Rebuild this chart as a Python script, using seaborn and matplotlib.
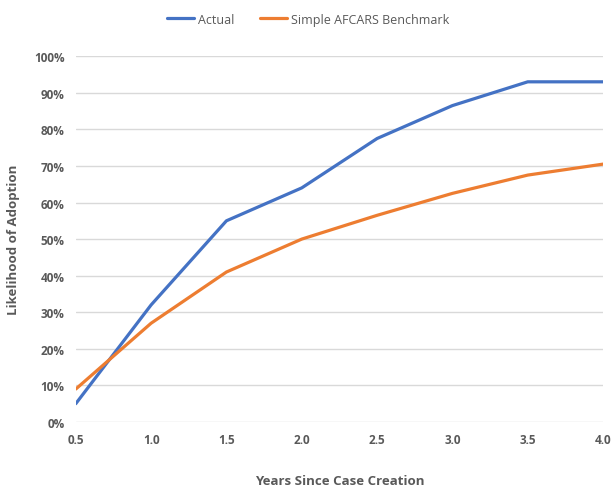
import matplotlib
matplotlib.use("Agg")
import matplotlib.pyplot as plt
import seaborn as sns
import pandas as pd
from matplotlib.ticker import FuncFormatter, MultipleLocator

years = [0.5, 1.0, 1.5, 2.0, 2.5, 3.0, 3.5, 4.0]
actual = [0.05, 0.32, 0.55, 0.64, 0.775, 0.865, 0.93, 0.93]
benchmark = [0.09, 0.27, 0.41, 0.50, 0.565, 0.625, 0.675, 0.705]
series_names = ["Actual", "Simple AFCARS Benchmark"]
colors = ["#4472C4", "#ED7D31"]

df = pd.concat([
    pd.DataFrame({"Years": years, "Value": actual, "Series": series_names[0]}),
    pd.DataFrame({"Years": years, "Value": benchmark, "Series": series_names[1]}),
])

sns.set_theme(style="white")
plt.rcParams['font.family'] = ['Open Sans', 'DejaVu Sans']

fig = plt.figure(figsize=(6.16, 4.89), dpi=100)
ax = fig.add_axes([0.123, 0.135, 0.856, 0.748])
sns.lineplot(data=df, x="Years", y="Value", hue="Series", palette=colors,
             linewidth=2.3, ax=ax, legend=True)

ax.set_xlim(0.5, 4.0)
ax.set_ylim(0, 1.0)
ax.xaxis.set_major_locator(MultipleLocator(0.5))
ax.yaxis.set_major_locator(MultipleLocator(0.1))
ax.xaxis.set_major_formatter(FuncFormatter(lambda v, p: f"{v:.1f}"))
ax.yaxis.set_major_formatter(FuncFormatter(lambda v, p: f"{v*100:.0f}%"))
ax.grid(axis="y", color="#D9D9D9", linewidth=1)
ax.grid(axis="x", visible=False)
for s in ax.spines.values():
    s.set_visible(False)
ax.tick_params(axis="both", length=0, labelsize=8.5, labelcolor="#595959", pad=8)
for lab in ax.get_xticklabels() + ax.get_yticklabels():
    lab.set_fontweight("bold")
ax.set_xlabel("Years Since Case Creation", fontsize=9.5, color="#595959",
              fontweight="bold", labelpad=20)
ax.set_ylabel("Likelihood of Adoption", fontsize=9.5, color="#595959",
              fontweight="bold", labelpad=10)

handles, labels = ax.get_legend_handles_labels()
ax.legend(handles, labels, loc="upper center", bbox_to_anchor=(0.5, 0.995),
          bbox_transform=fig.transFigure, ncol=2, frameon=False,
          fontsize=9, labelcolor="#595959", handlelength=2.2,
          handletextpad=0.3, columnspacing=2.0)

fig.savefig("out.png", dpi=100)
